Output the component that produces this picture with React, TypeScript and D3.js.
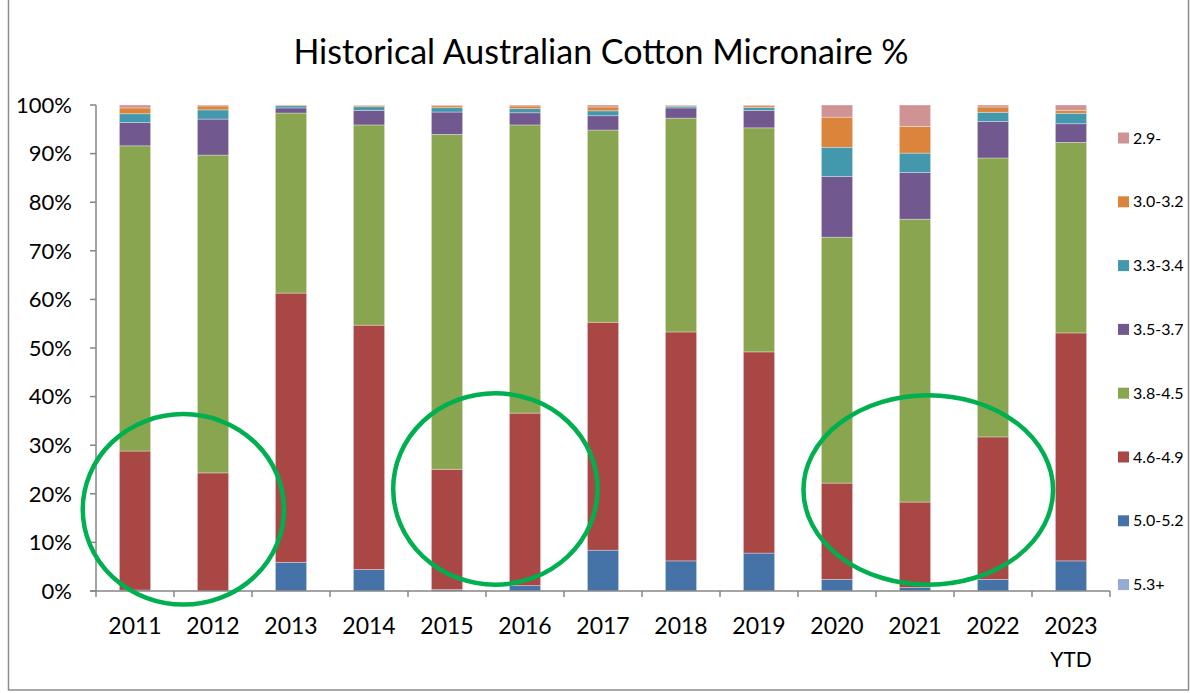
import * as d3 from "d3";

// micronaire share (%) by season
const years = ["2011", "2012", "2013", "2014", "2015", "2016", "2017", "2018", "2019", "2020", "2021", "2022", "2023"];
const s53 = [0, 0, 0, 0, 0, 0, 0, 0, 0, 0, 0, 0, 0];
const s50 = [0.2, 0, 5.9, 4.4, 0.3, 1.1, 8.4, 6.2, 7.8, 2.4, 0.7, 2.4, 6.2];
const s46 = [28.6, 24.3, 55.4, 50.3, 24.75, 35.5, 46.9, 47.1, 41.4, 19.8, 17.6, 29.3, 46.9];
const s38 = [62.8, 65.4, 37.05, 41.2, 68.9, 59.3, 39.55, 44.0, 46.1, 50.6, 58.2, 57.4, 39.2];
const s35 = [4.8, 7.4, 1.05, 3.0, 4.6, 2.5, 2.95, 2.1, 3.6, 12.5, 9.6, 7.5, 3.85];
const s33 = [1.8, 1.9, 0.45, 0.75, 0.9, 0.85, 1.0, 0.35, 0.6, 6.0, 4.0, 1.9, 2.15];
const s30 = [1.2, 0.8, 0.15, 0.25, 0.4, 0.55, 0.8, 0.2, 0.35, 6.2, 5.5, 1.1, 0.6];
const s29 = [0.6, 0.2, 0, 0.1, 0.15, 0.2, 0.4, 0.05, 0.15, 2.5, 4.4, 0.4, 1.1];

// stacked bottom -> top
const keys = ["5.3+", "5.0-5.2", "4.6-4.9", "3.8-4.5", "3.5-3.7", "3.3-3.4", "3.0-3.2", "2.9-"];
const series = [s53, s50, s46, s38, s35, s33, s30, s29];
const colors = ["#95ABD3", "#4673A7", "#A94744", "#8AA54F", "#71588F", "#4398AE", "#DA843C", "#D09393"];
const yTicks = [0, 10, 20, 30, 40, 50, 60, 70, 80, 90, 100];

// green highlight ellipses: centre/radius in category units and %
const highlights = [
  { cx: 1.12, cy: 16.8, rx: 1.29, ry: 19.6 },
  { cx: 5.12, cy: 21.0, rx: 1.31, ry: 19.7 },
  { cx: 10.67, cy: 20.8, rx: 1.6, ry: 19.5 },
];

const width = 1190;
const height = 693;
const left = 96;
const right = 1110;
const top = 105;
const bottom = 591;

export default function App() {
  const rows = years.map((y, i) => {
    const r: Record<string, any> = { year: y };
    keys.forEach((k, j) => (r[k] = series[j][i]));
    return r;
  });
  const stacked = d3.stack<any>().keys(keys)(rows);

  const x = d3.scaleBand<string>().domain(years).range([left, right]).paddingInner(0.6).paddingOuter(0.3);
  const xi = d3.scaleLinear().domain([0, years.length]).range([left, right]);
  const y = d3.scaleLinear().domain([0, 100]).range([bottom, top]);

  const font = "Lato, 'Open Sans', sans-serif";
  const axisColor = "#868686";

  return (
    <svg width={width} height={height} style={{ position: "absolute", left: 0, top: 0, fontFamily: font }}>
      <rect x={8.5} y={-2} width={1180} height={692} fill="white" stroke="#8c8c8c" strokeWidth={1.5} />

      <text x={601} y={64} textAnchor="middle" fontSize={34} fill="#000">
        Historical Australian Cotton Micronaire %
      </text>

      {/* bars */}
      {stacked.map((layer, j) => (
        <g key={keys[j]} fill={colors[j]}>
          {layer.map((d, i) => {
            const h = y(d[0]) - y(d[1]);
            if (h <= 0) return null;
            return (
              <rect
                key={i}
                x={x(years[i])!}
                y={y(d[1])}
                width={x.bandwidth()}
                height={h}
                stroke="rgba(255,255,255,0.4)"
                strokeWidth={0.8}
              />
            );
          })}
        </g>
      ))}

      {/* y axis */}
      <line x1={left} x2={left} y1={y(100)} y2={y(0)} stroke={axisColor} strokeWidth={1.5} />
      {yTicks.map((t) => (
        <g key={t}>
          <line x1={left - 6} x2={left} y1={y(t)} y2={y(t)} stroke={axisColor} strokeWidth={1.5} />
          <text x={72} y={y(t)} dy="0.35em" textAnchor="end" fontSize={22} fill="#000">
            {t}%
          </text>
        </g>
      ))}

      {/* x axis */}
      <line x1={left - 6} x2={right} y1={y(0)} y2={y(0)} stroke={axisColor} strokeWidth={1.5} />
      {d3.range(years.length + 1).map((i) => (
        <line key={i} x1={xi(i)} x2={xi(i)} y1={y(0)} y2={y(0) + 6} stroke={axisColor} strokeWidth={1.5} />
      ))}
      {years.map((yr) => (
        <text key={yr} x={x(yr)! + x.bandwidth() / 2} y={634} textAnchor="middle" fontSize={23} fill="#000">
          {yr}
        </text>
      ))}
      <text x={x("2023")! + x.bandwidth() / 2} y={667} textAnchor="middle" fontSize={21} fill="#000">
        YTD
      </text>

      {/* legend, top to bottom */}
      {keys
        .slice()
        .reverse()
        .map((k, i) => {
          const c = colors[keys.length - 1 - i];
          const ly = 138 + i * 63.8;
          return (
            <g key={k}>
              <rect x={1118} y={ly - 5.5} width={11} height={11} fill={c} />
              <text x={1133} y={ly} dy="0.35em" fontSize={16} fill="#000">
                {k}
              </text>
            </g>
          );
        })}

      {/* highlight ellipses */}
      {highlights.map((h, i) => (
        <ellipse
          key={i}
          cx={xi(h.cx)}
          cy={y(h.cy)}
          rx={xi(h.rx) - xi(0)}
          ry={y(0) - y(h.ry)}
          fill="none"
          stroke="#00B050"
          strokeWidth={4.5}
        />
      ))}
    </svg>
  );
}
